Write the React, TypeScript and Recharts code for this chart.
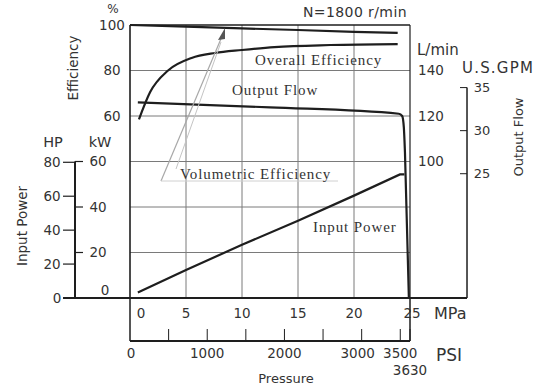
import React from 'react';
import { ComposedChart, Line, XAxis, YAxis, ReferenceLine } from 'recharts';

// ---- tick values ----
const mpaTicks = [0, 5, 10, 15, 20, 25];
const psiTicks = [0, 500, 1000, 1500, 2000, 2500, 3000, 3500, 3626];
const psiTickLabels = ['0', '', '1000', '', '2000', '', '3000', '3500', '3630'];
const effTicks = [60, 80, 100];
const kwTicks = [0, 20, 40, 60];
const hpTicks = [0, 20, 40, 60, 80];
const lminTicks = [100, 120, 140];
const gpmTicks = [25, 30, 35];
const gridEff = [0, 20, 40, 60, 80];
const gridMpa = [5, 10, 15, 20];

// ---- series (x = pressure, MPa) ----
const volEffPressure = [0, 5, 10, 15, 20, 23.9];
const volEffValues = [100, 99.3, 98.5, 97.8, 97.0, 96.5];

const overallEffPressure = [0.8, 1.8, 3.4, 5.5, 7.6, 10, 12.9, 17.9, 23.9];
const overallEffValues = [58.5, 70.5, 80, 85.5, 87.7, 89, 90.3, 91.2, 91.6];

const outputFlowPressure = [0.7, 12.5, 24.0, 24.3, 24.45, 24.55, 24.9];
const outputFlowValues = [126, 123.8, 121, 120, 115, 104, 40];

const inputPowerPressure = [0.7, 5, 10, 15, 20, 24.1, 24.5];
const inputPowerValues = [2.4, 12.3, 23.4, 34, 45, 54.3, 54.3];

const W = 542;
const H = 388;
const SANS = '"DejaVu Sans", sans-serif';
const SERIF = '"Liberation Serif", serif';
const TXT = '#333';
const INK = '#1e1e1e';
const GRID = '#7a7a7a';

const toRows = (xs: number[], ys: number[]) => xs.map((p, i) => ({ p, v: ys[i] }));

const effTick = (props: any) => {
  const { y, payload } = props;
  return (
    <text x={112} y={y} dy="0.36em" textAnchor="middle" fontSize={13.5} fontFamily={SANS} fill={TXT}>
      {payload.value}
    </text>
  );
};

const kwTick = (props: any) => {
  const { y, payload } = props;
  const v = payload.value;
  if (v === 0) {
    return (
      <text x={105} y={290} dy="0.36em" textAnchor="middle" fontSize={13.5} fontFamily={SANS} fill={TXT}>
        0
      </text>
    );
  }
  return (
    <g>
      <line x1={75} x2={83} y1={y} y2={y} stroke={INK} strokeWidth={1.2} />
      <text x={98} y={y} dy="0.36em" textAnchor="middle" fontSize={13.5} fontFamily={SANS} fill={TXT}>
        {v}
      </text>
    </g>
  );
};

const hpTick = (props: any) => {
  const { y, payload } = props;
  const v = payload.value;
  return (
    <g>
      <line x1={63} x2={75} y1={y} y2={y} stroke={INK} strokeWidth={1.2} />
      <text x={v === 0 ? 57 : 52} y={y} dy="0.36em" textAnchor="middle" fontSize={13.5} fontFamily={SANS} fill={TXT}>
        {v}
      </text>
    </g>
  );
};

const lminTick = (props: any) => {
  const { y, payload } = props;
  return (
    <text x={431} y={y} dy="0.36em" textAnchor="middle" fontSize={13.5} fontFamily={SANS} fill={TXT}>
      {payload.value}
    </text>
  );
};

const gpmTick = (props: any) => {
  const { y, payload } = props;
  return (
    <g>
      <line x1={460} x2={467} y1={y} y2={y} stroke={INK} strokeWidth={1} />
      <text x={482} y={y} dy="0.36em" textAnchor="middle" fontSize={13} fontFamily={SANS} fill={TXT}>
        {payload.value}
      </text>
    </g>
  );
};

const mpaTick = (props: any) => {
  const { x, payload } = props;
  const v = payload.value;
  const dx = v === 0 ? 11 : v === 25 ? 2 : 0;
  return (
    <text x={x + dx} y={313} dy="0.36em" textAnchor="middle" fontSize={13.5} fontFamily={SANS} fill={TXT}>
      {v}
    </text>
  );
};

const psiTick = (props: any) => {
  const { x, payload } = props;
  const v = payload.value;
  const idx = psiTicks.indexOf(v);
  const label = idx >= 0 ? psiTickLabels[idx] : '';
  const last = idx === psiTicks.length - 1;
  const dx = v === 3000 ? -4 : v === 0 ? 1 : 0;
  return (
    <g>
      {v !== 0 && <line x1={x} x2={x} y1={341} y2={329} stroke={INK} strokeWidth={1} />}
      {label && (
        <text x={x + dx} y={last ? 370 : 353} dy="0.36em" textAnchor="middle" fontSize={13.5} fontFamily={SANS} fill={TXT}>
          {label}
        </text>
      )}
    </g>
  );
};

export default function App() {
  const volData = toRows(volEffPressure, volEffValues);
  const overallData = toRows(overallEffPressure, overallEffValues);
  const flowData = toRows(outputFlowPressure, outputFlowValues);
  const powerData = toRows(inputPowerPressure, inputPowerValues);

  const gpmMin = 40 / 3.7854;
  const gpmMax = 160 / 3.7854;

  return (
    <div style={{ position: 'absolute', left: 0, top: 0, width: W, height: H, background: '#fff' }}>
      <ComposedChart width={W} height={H} margin={{ top: 25, right: 0, bottom: 0, left: 0 }}>
        <XAxis xAxisId="mpa" type="number" dataKey="p" domain={[0, 25]} ticks={mpaTicks} interval={0}
          height={43} axisLine={false} tickLine={false} tick={mpaTick} />
        <XAxis xAxisId="psi" type="number" dataKey="psi" domain={[0, 3626]} ticks={psiTicks} interval={0}
          height={47} axisLine={false} tickLine={false} tick={psiTick} allowDataOverflow />
        <YAxis yAxisId="eff" type="number" domain={[-20, 100]} ticks={effTicks} interval={0} width={40}
          axisLine={false} tickLine={false} tick={effTick} />
        <YAxis yAxisId="kw" type="number" domain={[0, 120]} ticks={kwTicks} interval={0} width={45}
          axisLine={false} tickLine={false} tick={kwTick} />
        <YAxis yAxisId="hp" type="number" domain={[0, 120 / 0.7457]} ticks={hpTicks} interval={0} width={45}
          axisLine={false} tickLine={false} tick={hpTick} allowDataOverflow />
        <YAxis yAxisId="lmin" orientation="right" type="number" domain={[40, 160]} ticks={lminTicks} interval={0}
          width={50} axisLine={false} tickLine={false} tick={lminTick} />
        <YAxis yAxisId="gpm" orientation="right" type="number" domain={[gpmMin, gpmMax]} ticks={gpmTicks} interval={0}
          width={82} axisLine={false} tickLine={false} tick={gpmTick} allowDataOverflow />

        {gridEff.map((v) => (
          <ReferenceLine key={'ge' + v} xAxisId="mpa" yAxisId="eff" y={v} stroke={GRID} strokeWidth={1} ifOverflow="visible" />
        ))}
        {gridMpa.map((v) => (
          <ReferenceLine key={'gm' + v} xAxisId="mpa" yAxisId="eff" x={v} stroke={GRID} strokeWidth={1} ifOverflow="visible" />
        ))}

        {/* plot frame */}
        <ReferenceLine xAxisId="mpa" yAxisId="eff" y={100} stroke={INK} strokeWidth={1.6} ifOverflow="visible" />
        <ReferenceLine xAxisId="mpa" yAxisId="eff" x={0} stroke={INK} strokeWidth={1.6} ifOverflow="visible" />
        <ReferenceLine xAxisId="mpa" yAxisId="eff" x={25} stroke={INK} strokeWidth={1.2} ifOverflow="visible" />
        {/* long base line */}
        <ReferenceLine xAxisId="mpa" yAxisId="eff" segment={[{ x: -5.98, y: -20 }, { x: 30.09, y: -20 }]}
          stroke={INK} strokeWidth={1.8} ifOverflow="visible" />
        {/* HP / kW axis line */}
        <ReferenceLine xAxisId="mpa" yAxisId="kw" segment={[{ x: -4.91, y: 0 }, { x: -4.91, y: 60 }]}
          stroke={INK} strokeWidth={2} ifOverflow="visible" />
        {/* GPM axis line */}
        <ReferenceLine xAxisId="mpa" yAxisId="gpm" segment={[{ x: 30.09, y: 35 }, { x: 30.09, y: gpmMin }]}
          stroke={INK} strokeWidth={1.5} ifOverflow="visible" />
        {/* pressure box below */}
        <ReferenceLine xAxisId="mpa" yAxisId="eff" segment={[{ x: 0, y: -20 }, { x: 0, y: -38.9 }]}
          stroke={INK} strokeWidth={1.5} ifOverflow="visible" />
        <ReferenceLine xAxisId="mpa" yAxisId="eff" segment={[{ x: 25, y: -20 }, { x: 25, y: -38.9 }]}
          stroke={INK} strokeWidth={1.5} ifOverflow="visible" />
        <ReferenceLine xAxisId="mpa" yAxisId="eff" segment={[{ x: 0, y: -38.9 }, { x: 25, y: -38.9 }]}
          stroke={INK} strokeWidth={1.8} ifOverflow="visible" />

        <Line xAxisId="mpa" yAxisId="eff" data={volData} dataKey="v" type="linear" stroke={INK} strokeWidth={2.2}
          dot={false} isAnimationActive={false} />
        <Line xAxisId="mpa" yAxisId="eff" data={overallData} dataKey="v" type="monotone" stroke={INK} strokeWidth={2.2}
          dot={false} isAnimationActive={false} />
        <Line xAxisId="mpa" yAxisId="lmin" data={flowData} dataKey="v" type="monotone" stroke={INK} strokeWidth={2.2}
          dot={false} isAnimationActive={false} />
        <Line xAxisId="mpa" yAxisId="kw" data={powerData} dataKey="v" type="linear" stroke={INK} strokeWidth={2.2}
          dot={false} isAnimationActive={false} />
      </ComposedChart>

      <svg width={W} height={H} style={{ position: 'absolute', left: 0, top: 0, pointerEvents: 'none' }}>
        {/* callout for volumetric efficiency */}
        <line x1={161} y1={181} x2={223} y2={34} stroke="#a8a8a8" strokeWidth={1.2} />
        <line x1={176} y1={169} x2={221} y2={42} stroke="#c4c4c4" strokeWidth={1} />
        <line x1={161} y1={181} x2={338} y2={181} stroke="#d0d0d0" strokeWidth={1} />
        <polygon points="225,28 218,40 225,39" fill="#555" />

        <g fontFamily={SANS} fill={TXT}>
          <text x={113} y={9} dy="0.36em" textAnchor="middle" fontSize={12}>%</text>
          <text x={73} y={68} dy="0.36em" textAnchor="middle" fontSize={13.5} transform="rotate(-90 73 68)">Efficiency</text>
          <text x={53} y={142} dy="0.36em" textAnchor="middle" fontSize={14.5}>HP</text>
          <text x={100} y={142} dy="0.36em" textAnchor="middle" fontSize={14.5}>kW</text>
          <text x={22} y={226} dy="0.36em" textAnchor="middle" fontSize={13.5} transform="rotate(-90 22 226)">Input Power</text>
          <text x={303} y={12} dy="0.36em" fontSize={14} letterSpacing={0.4}>N=1800 r/min</text>
          <text x={417} y={50} dy="0.36em" fontSize={15}>L/min</text>
          <text x={462} y={68} dy="0.36em" fontSize={15} letterSpacing={1.2}>U.S.GPM</text>
          <text x={518} y={137} dy="0.36em" textAnchor="middle" fontSize={13} transform="rotate(-90 518 137)">Output Flow</text>
          <text x={434} y={313} dy="0.36em" fontSize={16}>MPa</text>
          <text x={436} y={355} dy="0.36em" fontSize={17}>PSI</text>
          <text x={286} y={378} dy="0.36em" textAnchor="middle" fontSize={13}>Pressure</text>
        </g>
        <g fontFamily={SERIF} fill={TXT} fontSize={15} letterSpacing={0.9}>
          <text x={255} y={60} dy="0.36em">Overall Efficiency</text>
          <text x={232} y={90} dy="0.36em">Output Flow</text>
          <text x={180} y={174} dy="0.36em">Volumetric Efficiency</text>
          <text x={313} y={227} dy="0.36em">Input Power</text>
        </g>
      </svg>
    </div>
  );
}
